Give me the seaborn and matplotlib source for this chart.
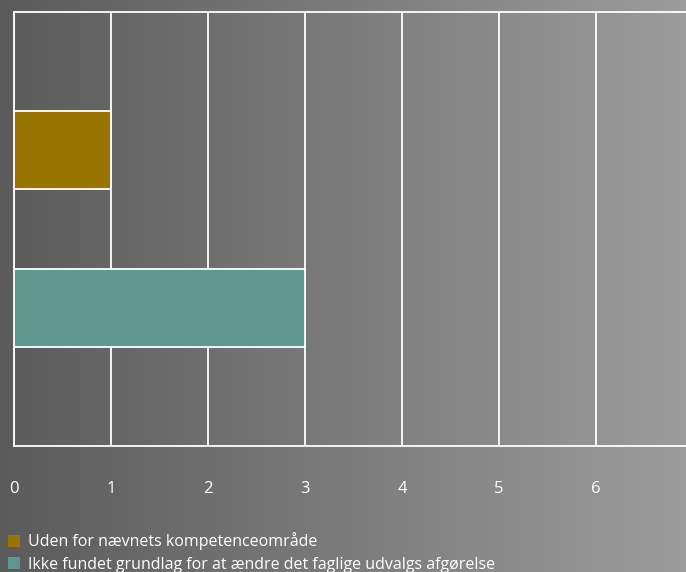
import numpy as np
import pandas as pd
import matplotlib
matplotlib.use("Agg")
import matplotlib.pyplot as plt
import seaborn as sns
from matplotlib.colors import LinearSegmentedColormap
from matplotlib.patches import Patch

categories = ["Uden for nævnets kompetenceområde",
              "Ikke fundet grundlag for at ændre det faglige udvalgs afgørelse"]
values = [1, 3]
colors = ["#9a7400", "#5f9690"]
xticks = [0, 1, 2, 3, 4, 5, 6]

df = pd.DataFrame({"category": categories, "value": values})

sns.set_theme(style="white")
plt.rcParams['font.family'] = ['Open Sans', 'DejaVu Sans']

W, H = 686, 572
fig = plt.figure(figsize=(W / 100, H / 100), dpi=100)

# gradient background
bg = fig.add_axes([0, 0, 1, 1], zorder=-10)
cmap = LinearSegmentedColormap.from_list("g", ["#5b5b5b", "#9c9c9c"])
bg.imshow(np.linspace(0, 1, 256)[None, :], aspect="auto", cmap=cmap, extent=[0, 1, 0, 1])
bg.axis("off")

left = 14 / W
bottom = (H - 446) / H
top = (H - 12) / H
ax = fig.add_axes([left, bottom, 1 - left, top - bottom])
ax.patch.set_alpha(0)

sns.barplot(data=df, y="category", x="value", hue="category", palette=colors,
            dodge=False, width=0.49, edgecolor="white", linewidth=1.3,
            saturation=1, legend=False, ax=ax, zorder=3)

ax.set_xlim(0, 672 / 97)
ax.set_ylim(1.87, -0.87)
ax.set_xticks(xticks)
ax.set_xticklabels([str(t) for t in xticks], color="white", fontsize=12)
ax.tick_params(axis="x", length=0, pad=25)
ax.set_yticks([])
ax.set_xlabel("")
ax.set_ylabel("")
ax.grid(axis="x", color="white", linewidth=1.3, zorder=0)
ax.set_axisbelow(True)
for s in ["left", "top", "bottom"]:
    ax.spines[s].set_visible(True)
    ax.spines[s].set_color("white")
    ax.spines[s].set_linewidth(1.3)
ax.spines["right"].set_visible(False)

handles = [Patch(facecolor=c, edgecolor="none", label=l) for c, l in zip(colors, categories)]
fig.legend(handles=handles, loc="lower left", bbox_to_anchor=(-0.003, -0.018),
           frameon=False, fontsize=11.5, labelcolor="white", handlelength=0.75,
           handleheight=0.75, handletextpad=0.55, labelspacing=0.4, borderaxespad=0.2)

fig.savefig("out.png", dpi=100)
